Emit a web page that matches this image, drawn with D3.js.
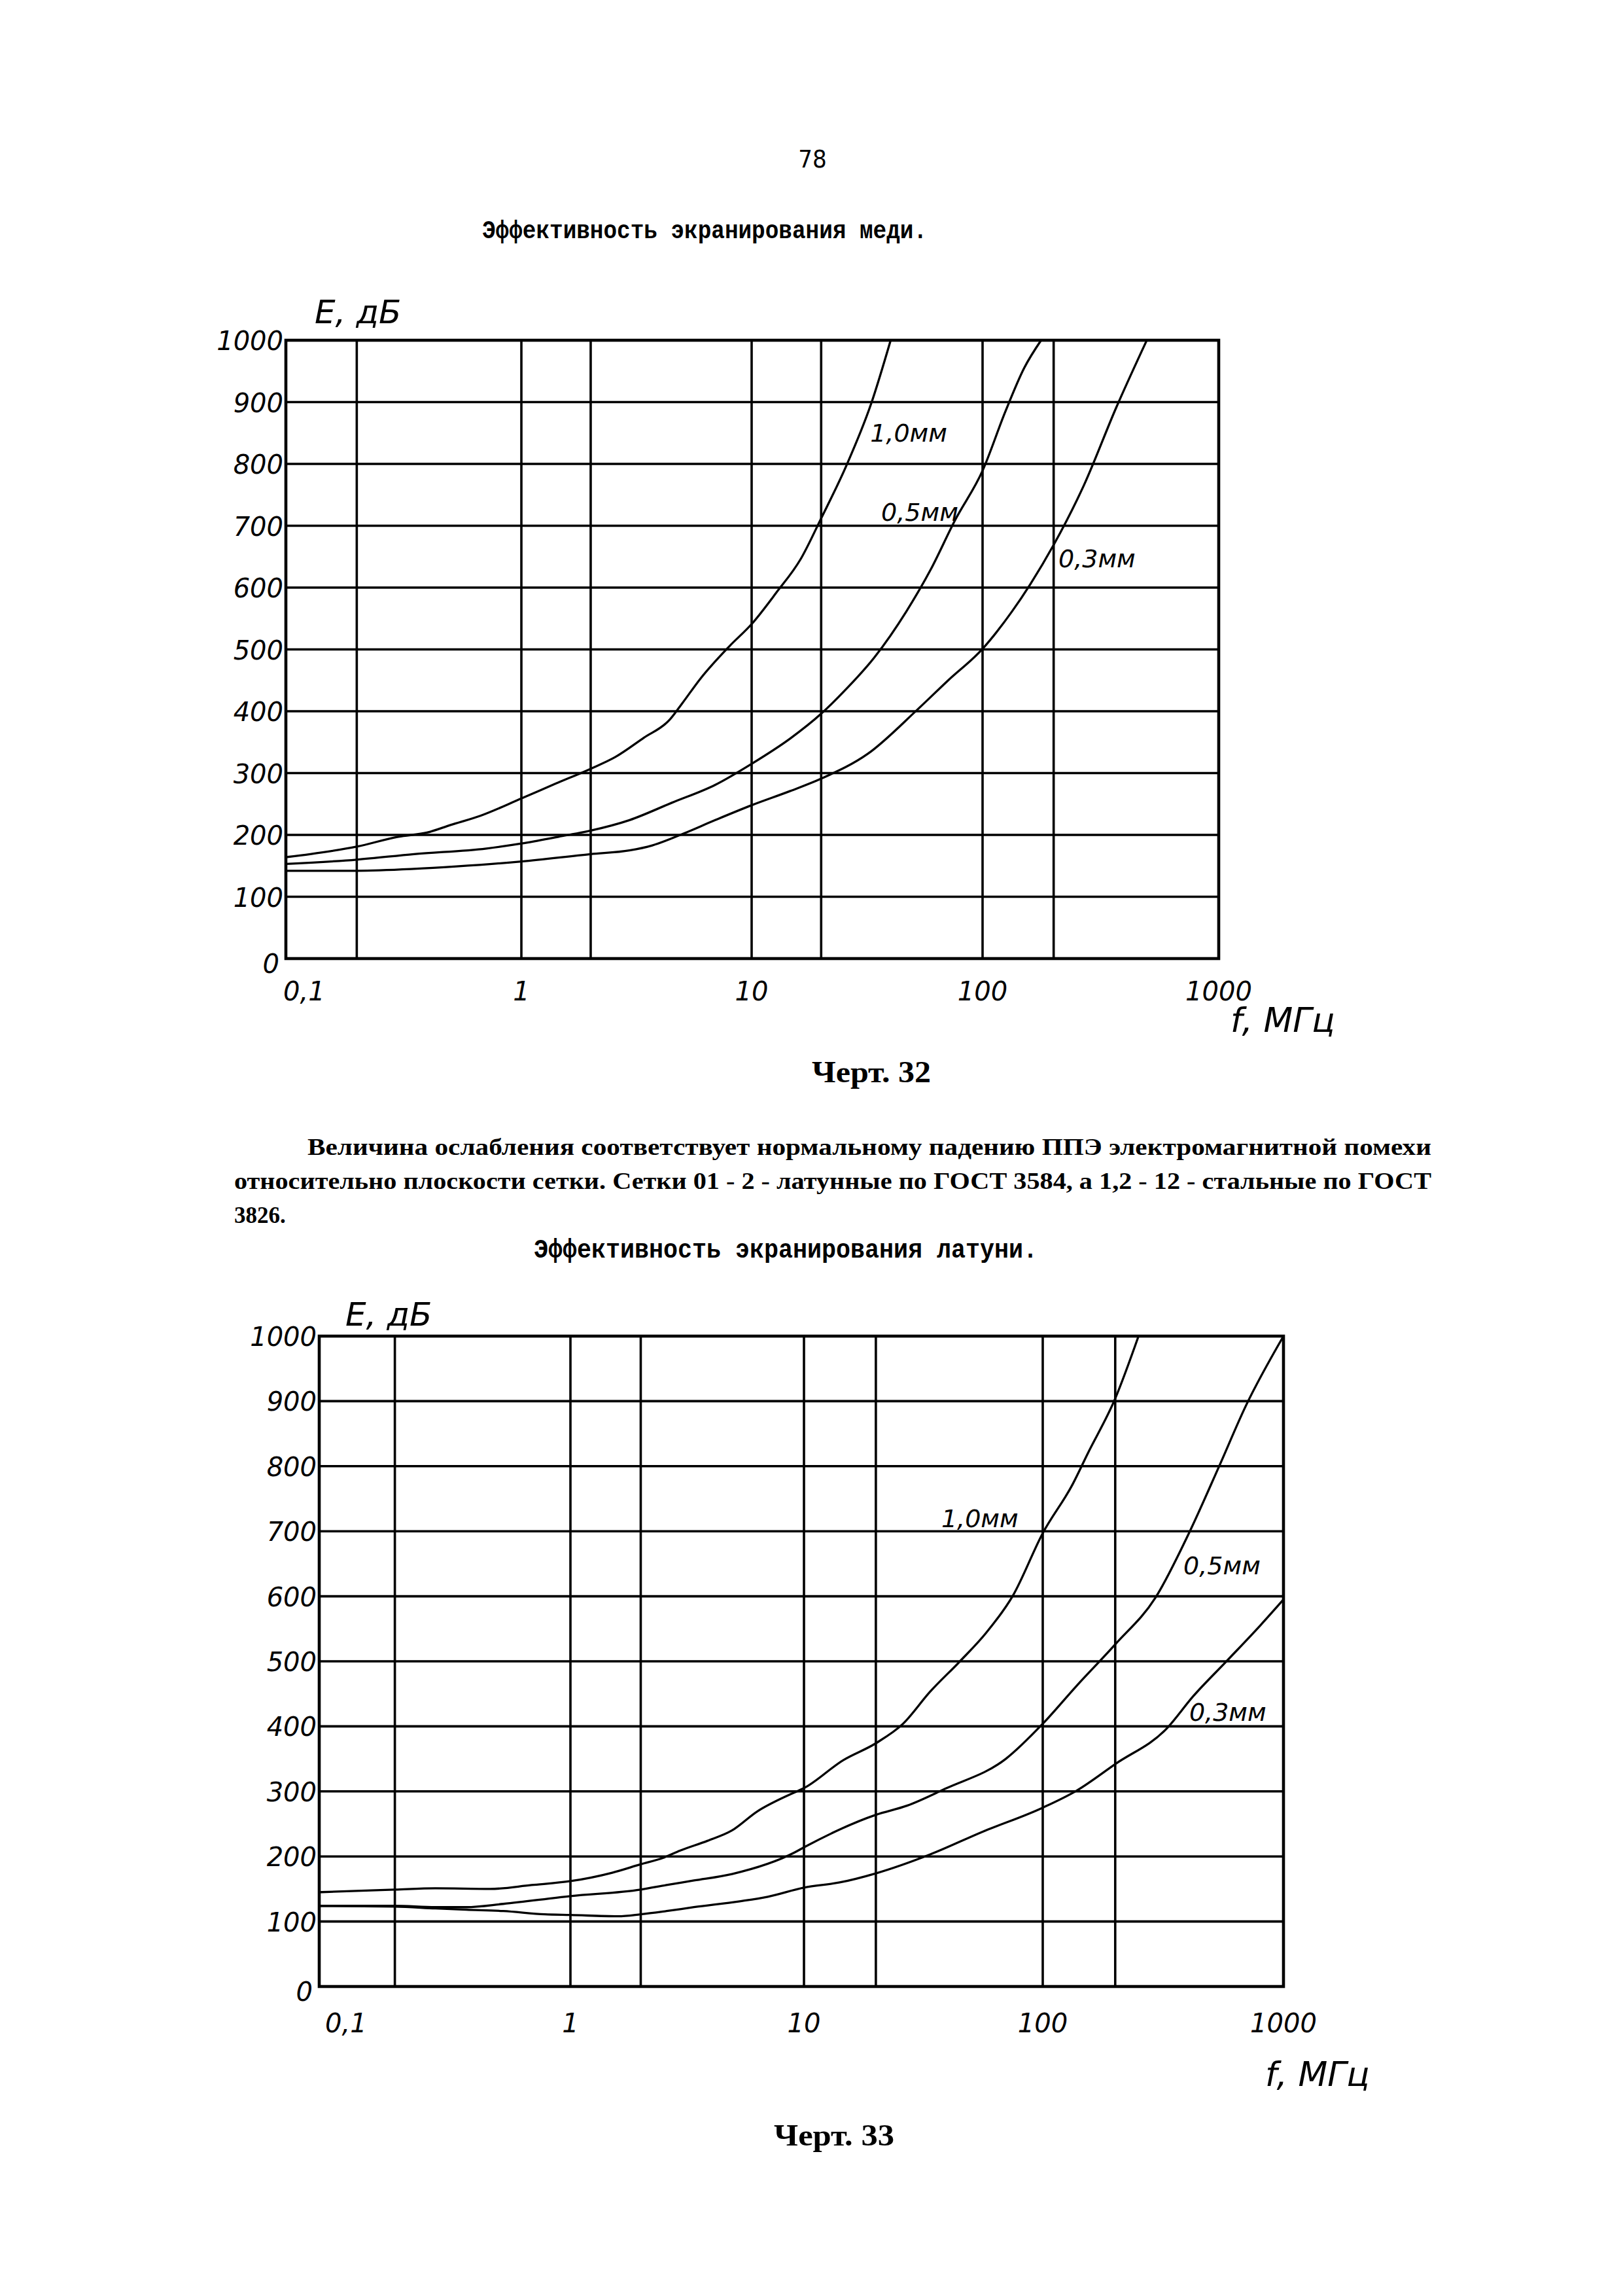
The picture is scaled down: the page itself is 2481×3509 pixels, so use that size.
<!DOCTYPE html>
<html>
<head>
<meta charset="utf-8">
<script src="https://cdn.jsdelivr.net/npm/d3@7"></script>
<style>
  html, body { margin: 0; padding: 0; background: #fff; }
  svg { display: block; }
</style>
</head>
<body>
<script>
// ---------------- DATA ----------------
const decadeTicks = [0.1, 1, 10, 100, 1000];
const xTickLabels = ["0,1", "1", "10", "100", "1000"];
const gridFreqs = [0.1, 0.2, 1, 2, 10, 20, 100, 200, 1000];
const yTickValues = [0, 100, 200, 300, 400, 500, 600, 700, 800, 900, 1000];
const yTickLabels = ["0", "100", "200", "300", "400", "500", "600", "700", "800", "900", "1000"];
const seriesNames = ["1,0мм", "0,5мм", "0,3мм"];

// Chart 32 — copper (медь)
const cu10F = [0.1, 0.127, 0.2, 0.3, 0.4, 0.5, 0.67, 1, 1.41, 2, 2.56, 3.4, 4.4, 5, 6, 8, 10, 12.8, 16.3, 20, 25.7, 32.9, 40];
const cu10E = [164, 169, 181, 197, 204, 216, 231, 259, 283, 307, 326, 357, 386, 413, 453, 505, 541, 592, 646, 712, 797, 897, 1000];
const cu05F = [0.1, 0.2, 0.35, 0.71, 1, 1.45, 2, 2.95, 4.5, 6.95, 10, 14.7, 20, 25.7, 34, 46.7, 59.6, 76, 100, 125, 150, 177];
const cu05E = [153, 160, 169, 178, 186, 197, 207, 224, 252, 281, 315, 356, 396, 436, 487, 561, 629, 709, 789, 885, 955, 1000];
const cu03F = [0.1, 0.2, 0.35, 0.53, 1, 2, 2.95, 3.7, 4.9, 6.95, 10, 14.7, 20, 31.8, 52, 71, 100, 133, 159, 200, 269, 368, 496];
const cu03E = [142, 142, 145, 149, 157, 169, 175, 183, 200, 224, 248, 271, 291, 331, 402, 450, 501, 561, 605, 669, 766, 891, 1000];

// Chart 33 — brass (латунь)
const br10F = [0.1, 0.2, 0.29, 0.48, 0.7, 1, 1.51, 2, 2.5, 2.95, 3.86, 4.92, 6.3, 8.8, 10, 14.6, 20, 26, 33.7, 45, 58, 75, 100, 133, 154, 200, 250];
const br10E = [145, 149, 151, 150, 156, 162, 175, 188, 198, 209, 224, 240, 269, 296, 305, 348, 374, 404, 453, 500, 544, 601, 697, 772, 820, 904, 1000];
const br05F = [0.1, 0.2, 0.29, 0.385, 0.54, 1, 2, 2.58, 3.38, 4.92, 9.1, 10, 20, 27, 39, 70, 100, 138, 200, 294, 406, 542, 698, 1000];
const br05E = [124, 124, 122, 122, 127, 139, 149, 156, 163, 173, 206, 214, 264, 278, 304, 350, 404, 462, 526, 598, 698, 801, 893, 1000];
const br03F = [0.1, 0.2, 0.29, 0.385, 0.54, 0.79, 1, 1.6, 2, 2.58, 3.38, 5.3, 7, 10, 14.1, 20, 33.7, 56, 100, 138, 200, 328, 421, 583, 805, 1000];
const br03E = [124, 123, 120, 118, 116, 111, 110, 108, 111, 116, 122, 131, 138, 152, 160, 174, 203, 238, 275, 301, 342, 397, 446, 501, 556, 595];

// ---------------- PAGE ----------------
const W = 2481, H = 3509;
const svg = d3.select("body").append("svg")
  .attr("width", W).attr("height", H)
  .attr("viewBox", `0 0 ${W} ${H}`);
svg.append("rect").attr("width", W).attr("height", H).attr("fill", "#fff");

const serif = "'Liberation Serif', 'DejaVu Serif', serif";
const mono = "'Liberation Mono', 'DejaVu Sans Mono', monospace";
const hand = "'DejaVu Sans', 'Liberation Sans', sans-serif";

function txt(s, x, y, opts) {
  const t = svg.append("text").attr("x", x).attr("y", y).text(s)
    .attr("font-family", opts.family).attr("font-size", opts.size)
    .attr("fill", "#000");
  if (opts.weight) t.attr("font-weight", opts.weight);
  if (opts.style) t.attr("font-style", opts.style);
  if (opts.anchor) t.attr("text-anchor", opts.anchor);
  if (opts.len) t.attr("textLength", opts.len).attr("lengthAdjust", opts.adjust || "spacingAndGlyphs");
  return t;
}

// page number and captions
txt("78", 1242, 256, {family: "'Liberation Sans Narrow', 'DejaVu Sans Condensed', sans-serif", size: 38, anchor: "middle"});
txt("Эффективность экранирования меди.", 737, 364, {family: mono, size: 38, weight: "bold", len: 680});
txt("Черт. 32", 1241, 1654, {family: serif, size: 46, weight: "bold", len: 182});
txt("Величина ослабления  соответствует  нормальному падению ППЭ электромагнитной помехи", 470, 1765,
    {family: serif, size: 35, weight: "bold", len: 1718});
txt("относительно плоскости сетки. Сетки 01 - 2 - латунные по ГОСТ 3584, а 1,2 - 12 - стальные по ГОСТ", 358, 1817,
    {family: serif, size: 35, weight: "bold", len: 1830});
txt("3826.", 358, 1869, {family: serif, size: 35, weight: "bold"});
txt("Эффективность экранирования латуни.", 816, 1922, {family: mono, size: 40, weight: "bold", len: 770});
txt("Черт. 33", 1183, 3279, {family: serif, size: 46, weight: "bold", len: 184});

// ---------------- CHARTS ----------------
function drawChart(cfg) {
  const g = svg.append("g");
  const x = d3.scaleLog().domain(decadeTicks).range(cfg.xStops);
  const y = d3.scaleLinear().domain([0, 1000]).range([cfg.bottom, cfg.top]);
  const x0 = x(0.1), x1 = x(1000);

  // grid
  g.append("g").selectAll("line").data(yTickValues).join("line")
    .attr("x1", x0).attr("x2", x1)
    .attr("y1", d => y(d)).attr("y2", d => y(d))
    .attr("stroke", "#000").attr("stroke-width", 3.6);
  g.append("g").selectAll("line").data(gridFreqs).join("line")
    .attr("x1", d => x(d)).attr("x2", d => x(d))
    .attr("y1", y(0)).attr("y2", y(1000))
    .attr("stroke", "#000").attr("stroke-width", 3.6);
  g.append("rect").attr("x", x0).attr("y", y(1000))
    .attr("width", x1 - x0).attr("height", y(0) - y(1000))
    .attr("fill", "none").attr("stroke", "#000").attr("stroke-width", 4.6);

  // curves
  const line = d3.line().x(d => x(d.f)).y(d => y(d.e)).curve(d3.curveMonotoneX);
  cfg.series.forEach((s, i) => {
    const pts = s.f.map((f, k) => ({f, e: s.e[k]}));
    g.append("path").datum(pts).attr("d", line)
      .attr("fill", "none").attr("stroke", "#000").attr("stroke-width", 3.3)
      .attr("stroke-linejoin", "round").attr("stroke-linecap", "round");
    g.append("text").attr("x", x(cfg.labelAt[i][0])).attr("y", y(cfg.labelAt[i][1]))
      .text(seriesNames[i])
      .attr("font-family", hand).attr("font-style", "italic").attr("font-size", 38)
      .attr("fill", "#000");
  });

  // y tick labels
  g.append("g").selectAll("text").data(yTickValues).join("text")
    .attr("x", d => d === 0 ? x0 - 10 : x0 - 4)
    .attr("y", d => d === 0 ? y(0) + 22 : y(d) + 15)
    .attr("text-anchor", "end")
    .attr("font-family", hand).attr("font-style", "italic").attr("font-size", 40)
    .attr("fill", "#000")
    .text((d, i) => yTickLabels[i]);

  // x tick labels
  g.append("g").selectAll("text").data(decadeTicks).join("text")
    .attr("x", (d, i) => i === 0 ? x(d) + cfg.firstTickShift : x(d))
    .attr("y", y(0) + cfg.xLabelDy)
    .attr("text-anchor", (d, i) => i === 0 ? "start" : "middle")
    .attr("font-family", hand).attr("font-style", "italic").attr("font-size", 40)
    .attr("fill", "#000")
    .text((d, i) => xTickLabels[i]);

  // axis titles
  g.append("text").attr("x", x0 + cfg.eLabel[0]).attr("y", y(1000) + cfg.eLabel[1])
    .text("Е, дБ").attr("font-family", hand).attr("font-style", "italic")
    .attr("font-size", 50).attr("fill", "#000");
  g.append("text").attr("x", x1 + cfg.fLabel[0]).attr("y", y(0) + cfg.fLabel[1])
    .text("f, МГц").attr("font-family", hand).attr("font-style", "italic")
    .attr("font-size", 52).attr("fill", "#000");
}

drawChart({
  xStops: [437, 797, 1149, 1502, 1863],
  top: 520, bottom: 1465,
  series: [{f: cu10F, e: cu10E}, {f: cu05F, e: cu05E}, {f: cu03F, e: cu03E}],
  labelAt: [[32.6, 836], [36.4, 708], [209.6, 633]],
  firstTickShift: -4, xLabelDy: 64,
  eLabel: [44, -26], fLabel: [18, 112]
});

drawChart({
  xStops: [488, 872, 1229, 1594, 1962],
  top: 2042, bottom: 3036,
  series: [{f: br10F, e: br10E}, {f: br05F, e: br05E}, {f: br03F, e: br03E}],
  labelAt: [[37.6, 706], [384, 634], [406, 408]],
  firstTickShift: 9, xLabelDy: 70,
  eLabel: [40, -16], fLabel: [-28, 152]
});
</script>
</body>
</html>
